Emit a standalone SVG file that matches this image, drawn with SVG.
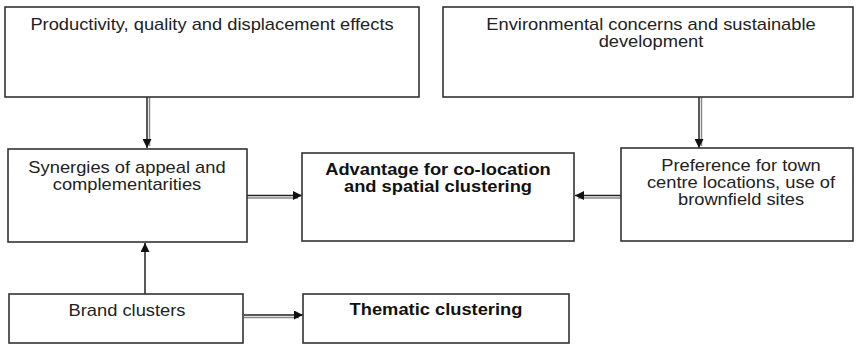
<svg xmlns="http://www.w3.org/2000/svg" width="856" height="344" viewBox="0 0 856 344">
<defs>
<marker id="ah" viewBox="0 0 10 10" refX="10" refY="5" markerWidth="10" markerHeight="9" markerUnits="userSpaceOnUse" orient="auto">
<path d="M0,0 L10,5 L0,10 Z" fill="#111"/>
</marker>
<style>
.box{fill:#fff;stroke:#333;stroke-width:1.6}
.t{font-family:"Liberation Sans",Arial,sans-serif;font-size:18.3px;fill:#222;text-anchor:middle}
.b{font-weight:bold;fill:#111}
.l1{stroke:#222;stroke-width:1.5;fill:none}
.l2{stroke:#888;stroke-width:1.5;fill:none}
</style>
</defs>
<rect width="856" height="344" fill="#fff"/>
<g id="connectors">
<line class="l2" x1="149.5" y1="97" x2="149.5" y2="146"/>
<line class="l1" x1="147" y1="97" x2="147" y2="148" marker-end="url(#ah)"/>
<line class="l2" x1="701.5" y1="97" x2="701.5" y2="146"/>
<line class="l1" x1="699" y1="97" x2="699" y2="148" marker-end="url(#ah)"/>
<line class="l1" x1="145" y1="294" x2="145" y2="243" marker-end="url(#ah)"/>
<line class="l2" x1="247" y1="198" x2="298" y2="198"/>
<line class="l1" x1="247" y1="195.5" x2="302" y2="195.5" marker-end="url(#ah)"/>
<line class="l2" x1="621" y1="198" x2="578" y2="198"/>
<line class="l1" x1="621" y1="195.5" x2="575" y2="195.5" marker-end="url(#ah)"/>
<line class="l2" x1="244" y1="317.5" x2="299" y2="317.5"/>
<line class="l1" x1="244" y1="315" x2="303" y2="315" marker-end="url(#ah)"/>
</g>
<g id="productivity">
<rect class="box" x="5" y="7" width="414" height="90"/>
<text class="t" transform="translate(212,30) scale(1,0.87)">Productivity, quality and displacement effects</text>
</g>
<g id="environmental">
<rect class="box" x="443" y="7" width="410" height="90"/>
<text class="t" transform="translate(651,30) scale(1,0.87)">Environmental concerns and sustainable</text>
<text class="t" transform="translate(651,47) scale(1,0.87)">development</text>
</g>
<g id="synergies">
<rect class="box" x="8" y="149" width="239" height="93"/>
<text class="t" transform="translate(127,173) scale(1,0.87)">Synergies of appeal and</text>
<text class="t" transform="translate(127,190) scale(1,0.87)">complementarities</text>
</g>
<g id="advantage">
<rect class="box" x="302" y="153" width="272" height="88"/>
<text class="t b" transform="translate(438,175) scale(1,0.87)">Advantage for co-location</text>
<text class="t b" transform="translate(438,192) scale(1,0.87)">and spatial clustering</text>
</g>
<g id="preference">
<rect class="box" x="621" y="148" width="232" height="93"/>
<text class="t" transform="translate(741,171) scale(1,0.87)">Preference for town</text>
<text class="t" transform="translate(741,188) scale(1,0.87)">centre locations, use of</text>
<text class="t" transform="translate(741,205) scale(1,0.87)">brownfield sites</text>
</g>
<g id="brand">
<rect class="box" x="9" y="294" width="234" height="49"/>
<text class="t" transform="translate(127,316) scale(1,0.87)">Brand clusters</text>
</g>
<g id="thematic">
<rect class="box" x="303" y="294" width="266" height="49"/>
<text class="t b" transform="translate(436,315) scale(1,0.87)">Thematic clustering</text>
</g>
</svg>
